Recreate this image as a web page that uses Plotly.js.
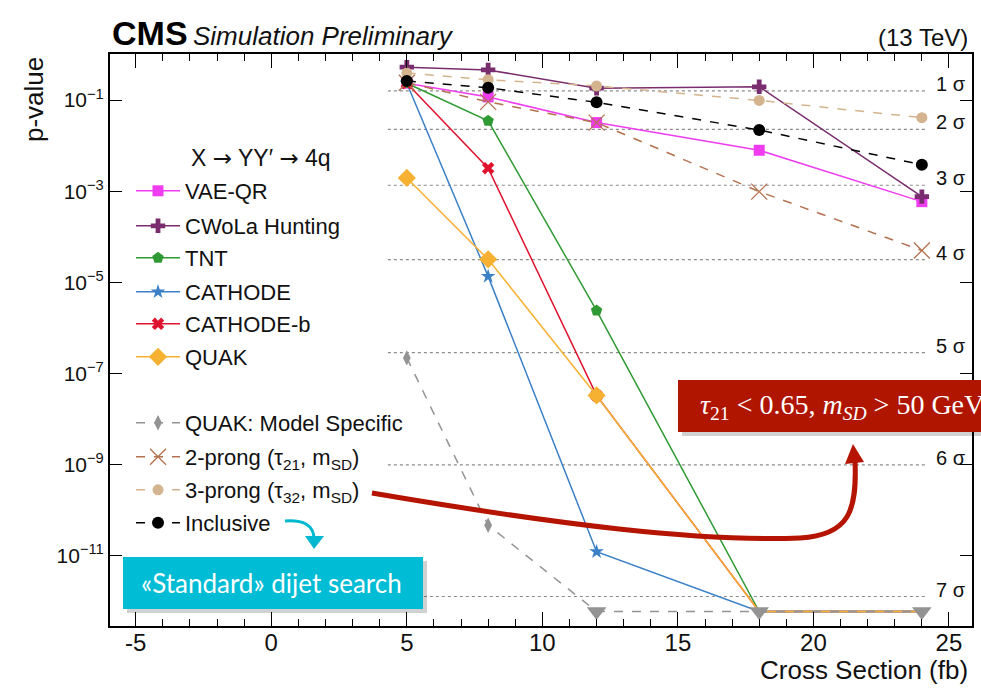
<!DOCTYPE html>
<html>
<head>
<meta charset="utf-8">
<script src="https://cdn.plot.ly/plotly-3.0.1.min.js"></script>
<style>
  html, body { margin: 0; padding: 0; background: #fff; }
  #chart { width: 981px; height: 697px; }
</style>
</head>
<body>
<div id="chart"></div>
<script>
// Signal injection scan: p-value versus injected cross section
const crossSection = [5, 8, 12, 18, 24];          // fb
const pFloor = 6e-13;                             // plotted limit for saturated p-values

const vaeQR      = [0.234, 0.117, 0.032, 7.9e-3, 5.9e-4];
const cwola      = [0.525, 0.457, 0.182, 0.195, 7.6e-4];
const tnt        = [0.234, 0.035, 2.4e-6, pFloor, pFloor];
const cathode    = [0.234, 1.35e-5, 1.23e-11, pFloor, pFloor];
const cathodeB   = [0.234, 3.2e-3, 3.3e-8, pFloor, pFloor];
const quak       = [1.95e-3, 3.2e-5, 3.3e-8, pFloor, pFloor];
const quakMS     = [2.2e-7, 4.7e-11, pFloor, pFloor, pFloor];
const twoProng   = [0.24, 0.091, 0.032, 9.8e-4, 5.0e-5];
const threeProng = [0.39, 0.28, 0.204, 0.098, 0.041];
const inclusive  = [0.263, 0.186, 0.089, 0.022, 3.8e-3];

const seriesNames = ['VAE-QR', 'CWoLa Hunting', 'TNT', 'CATHODE', 'CATHODE-b', 'QUAK',
  'QUAK: Model Specific', '2-prong (τ<sub>21</sub>, m<sub>SD</sub>)',
  '3-prong (τ<sub>32</sub>, m<sub>SD</sub>)', 'Inclusive'];

// one-sided significance reference levels
const sigmaLabels = ['1 σ', '2 σ', '3 σ', '4 σ', '5 σ', '6 σ', '7 σ'];
const sigmaP = [0.1587, 0.02275, 1.350e-3, 3.167e-5, 2.867e-7, 9.866e-10, 1.280e-12];

const xTickVals = [-5, 0, 5, 10, 15, 20, 25];
const xTickText = ['-5', '0', '5', '10', '15', '20', '25'];
const yTickVals = [1e-1, 1e-3, 1e-5, 1e-7, 1e-9, 1e-11];
const yTickText = ['10<sup>−1</sup>', '10<sup>−3</sup>', '10<sup>−5</sup>',
                   '10<sup>−7</sup>', '10<sup>−9</sup>', '10<sup>−11</sup>'];

const FONT = 'Liberation Sans, Arial, Helvetica, sans-serif';
const W = 981, H = 697;
const M = { l: 110, r: 9, t: 54, b: 71 };
const PW = W - M.l - M.r, PH = H - M.t - M.b;
// page pixel -> paper coordinates
const px = x => (x - M.l) / PW;
const py = y => (M.t + PH - y) / PH;
const P = (x, y) => px(x).toFixed(4) + ',' + py(y).toFixed(4);

// vertical centre of each legend row (page pixels)
const legendRows = [191, 226, 258, 292, 324, 357, 423, 457, 490, 523];

const styles = [
  { y: vaeQR,      color: '#f03cf0', symbol: 'square',       size: 11, dash: 'solid' },
  { y: cwola,      color: '#7a2d6e', symbol: 'cross',        size: 12, dash: 'solid' },
  { y: tnt,        color: '#2f9a33', symbol: 'pentagon',     size: 12, dash: 'solid' },
  { y: cathode,    color: '#3b80c6', symbol: 'star',         size: 11, dash: 'solid' },
  { y: cathodeB,   color: '#e0132e', symbol: 'x',            size: 11, dash: 'solid' },
  { y: quak,       color: '#f6b133', symbol: 'diamond',      size: 14, dash: 'solid' },
  { y: quakMS,     color: '#939393', symbol: 'diamond-tall', size: 11, dash: 'dash' },
  { y: twoProng,   color: '#b3714f', symbol: 'x-thin-open',  size: 16, dash: 'dash' },
  { y: threeProng, color: '#d3b48e', symbol: 'circle',       size: 11, dash: 'dash' },
  { y: inclusive,  color: '#000000', symbol: 'circle',       size: 12, dash: 'dash' }
];

const isLimit = v => v <= pFloor;
const traces = [];

// dotted significance lines
const sx = [], sy = [];
sigmaP.forEach(p => { sx.push(4.3, 24.2, null); sy.push(p, p, null); });
traces.push({
  x: sx, y: sy, mode: 'lines', showlegend: false, hoverinfo: 'skip',
  line: { color: '#8c8c8c', width: 1.2, dash: 'dot' }
});

styles.forEach((s, i) => {
  // saturated points keep the line but get no visible marker (stroke-only symbol, zero stroke)
  const symbol = s.y.some(isLimit) ? s.y.map(v => isLimit(v) ? 'line-ns' : s.symbol) : s.symbol;
  traces.push({
    x: crossSection, y: s.y, name: seriesNames[i], type: 'scatter', mode: 'lines+markers',
    legend: i === 0 ? 'legend' : 'legend' + (i + 1),
    line: { color: s.color, width: 1.5, dash: s.dash },
    marker: {
      symbol: symbol, size: s.size, color: s.color,
      line: { color: s.color, width: s.symbol === 'x-thin-open' ? 1.3 : 0 }
    }
  });
  if (i === 6) {
    // limit markers for the saturated model-specific points
    const lx = [], ly = [];
    s.y.forEach((v, k) => { if (isLimit(v)) { lx.push(crossSection[k]); ly.push(v); } });
    traces.push({
      x: lx, y: ly, mode: 'markers', showlegend: false, hoverinfo: 'skip',
      marker: { symbol: 'triangle-down', size: 17, color: s.color, line: { width: 0 } }
    });
  }
});

const layout = {
  width: W, height: H,
  margin: { l: M.l, r: M.r, t: M.t, b: M.b, pad: 0 },
  paper_bgcolor: '#ffffff', plot_bgcolor: '#ffffff',
  font: { family: FONT, color: '#111' },
  showlegend: true,
  xaxis: {
    range: [-5.95, 25.85], tickmode: 'array', tickvals: xTickVals, ticktext: xTickText,
    ticks: 'inside', ticklen: 14, tickwidth: 1, tickcolor: '#000', ticklabelstandoff: -6,
    mirror: 'allticks', showline: true, linecolor: '#000', linewidth: 2,
    showgrid: false, zeroline: false, tickfont: { size: 24, family: FONT, color: '#111' },
    minor: { dtick: 1, ticks: 'inside', ticklen: 7, tickwidth: 1, tickcolor: '#000', showgrid: false }
  },
  yaxis: {
    type: 'log', range: [-12.54, 0.01], tickmode: 'array', tickvals: yTickVals, ticktext: yTickText,
    ticks: 'inside', ticklen: 12, tickwidth: 1, tickcolor: '#000',
    mirror: 'allticks', showline: true, linecolor: '#000', linewidth: 2,
    showgrid: false, zeroline: false, tickfont: { size: 21, family: FONT, color: '#111' }
  },
  shapes: [],
  annotations: []
};

// one legend block per row so the rows sit on an even pitch
legendRows.forEach((row, i) => {
  const key = i === 0 ? 'legend' : 'legend' + (i + 1);
  layout[key] = {
    x: px(131), y: py(row), xanchor: 'left', yanchor: 'middle',
    bgcolor: 'rgba(0,0,0,0)', borderwidth: 0, itemwidth: 44,
    font: { family: FONT, size: 22, color: '#111' }
  };
});

// significance labels
sigmaP.forEach((p, i) => {
  layout.annotations.push({
    xref: 'x', yref: 'y', x: 24.45, y: Math.log10(p), xanchor: 'left', yanchor: 'bottom',
    yshift: -6, text: sigmaLabels[i], showarrow: false,
    font: { family: FONT, size: 20, color: '#111' }
  });
});

// header, axis titles
layout.annotations.push(
  { xref: 'paper', yref: 'paper', x: 0, y: 1, xanchor: 'left', yanchor: 'bottom', yshift: 0,
    text: '<b>CMS</b>', showarrow: false, font: { family: FONT, size: 34, color: '#000' } },
  { xref: 'paper', yref: 'paper', x: px(191), y: 1, xanchor: 'left', yanchor: 'bottom', yshift: 1,
    text: '<i>Simulation Preliminary</i>', showarrow: false, font: { family: FONT, size: 26, color: '#111' } },
  { xref: 'paper', yref: 'paper', x: px(970), y: 1, xanchor: 'right', yanchor: 'bottom', yshift: 1,
    text: '(13 TeV)', showarrow: false, font: { family: FONT, size: 24, color: '#111' } },
  { xref: 'paper', yref: 'paper', x: px(970), y: py(670), xanchor: 'right', yanchor: 'middle',
    text: 'Cross Section (fb)', showarrow: false, font: { family: FONT, size: 26, color: '#111' } },
  { xref: 'paper', yref: 'paper', x: px(34), y: py(100), xanchor: 'center', yanchor: 'middle',
    textangle: -90, text: 'p-value', showarrow: false, font: { family: FONT, size: 26, color: '#111' } },
  { xref: 'paper', yref: 'paper', x: px(189), y: py(158), xanchor: 'left', yanchor: 'middle',
    text: 'X <span style="font-family:DejaVu Sans">→</span> YY′ <span style="font-family:DejaVu Sans">→</span> 4q',
    showarrow: false, font: { family: FONT, size: 23, color: '#111' } }
);

// callout: standard dijet search
layout.shapes.push(
  { type: 'rect', xref: 'paper', yref: 'paper', x0: px(127), x1: px(427), y0: py(613), y1: py(561),
    fillcolor: 'rgba(0,0,0,0.18)', line: { width: 0 } },
  { type: 'rect', xref: 'paper', yref: 'paper', x0: px(123), x1: px(423), y0: py(609), y1: py(557),
    fillcolor: '#00bcd4', line: { width: 0 } },
  { type: 'path', xref: 'paper', yref: 'paper',
    path: 'M' + P(285, 521) + ' Q' + P(313, 519) + ' ' + P(314, 538),
    line: { color: '#00b8d0', width: 3 } },
  { type: 'path', xref: 'paper', yref: 'paper',
    path: 'M' + P(305, 536) + ' L' + P(324, 536) + ' L' + P(314, 549) + ' Z',
    fillcolor: '#00b8d0', line: { width: 0 } }
);
layout.annotations.push({
  xref: 'paper', yref: 'paper', x: px(271), y: py(583), xanchor: 'center', yanchor: 'middle',
  text: '«Standard» dijet search', showarrow: false,
  font: { family: 'Lato, Open Sans, sans-serif', size: 26, color: '#ffffff' }
});

// callout: two-prong selection
layout.shapes.push(
  { type: 'path', xref: 'paper', yref: 'paper',
    path: 'M' + P(372, 493) + ' C' + P(560, 525) + ' ' + P(700, 542) + ' ' + P(800, 538) +
          ' C' + P(850, 535) + ' ' + P(857, 510) + ' ' + P(855, 461),
    line: { color: '#b41400', width: 5 } },
  { type: 'path', xref: 'paper', yref: 'paper',
    path: 'M' + P(845, 464) + ' L' + P(864, 462) + ' L' + P(853, 444) + ' Z',
    fillcolor: '#b41400', line: { width: 0 } },
  { type: 'rect', xref: 'paper', yref: 'paper', x0: px(682), x1: px(1000), y0: py(436), y1: py(384),
    fillcolor: 'rgba(0,0,0,0.18)', line: { width: 0 } },
  { type: 'rect', xref: 'paper', yref: 'paper', x0: px(678), x1: px(1000), y0: py(432), y1: py(380),
    fillcolor: '#b01500', line: { width: 0 } }
);
layout.annotations.push({
  xref: 'paper', yref: 'paper', x: px(698), y: py(406), xanchor: 'left', yanchor: 'middle',
  text: '<i>τ</i><sub>21</sub> < 0.65, <i>m</i><sub><i>SD</i></sub> > 50 GeV', showarrow: false,
  font: { family: 'Liberation Serif, DejaVu Serif, serif', size: 28, color: '#ffffff' }
});

Plotly.newPlot('chart', traces, layout, { displayModeBar: false, staticPlot: true });
</script>
</body>
</html>
